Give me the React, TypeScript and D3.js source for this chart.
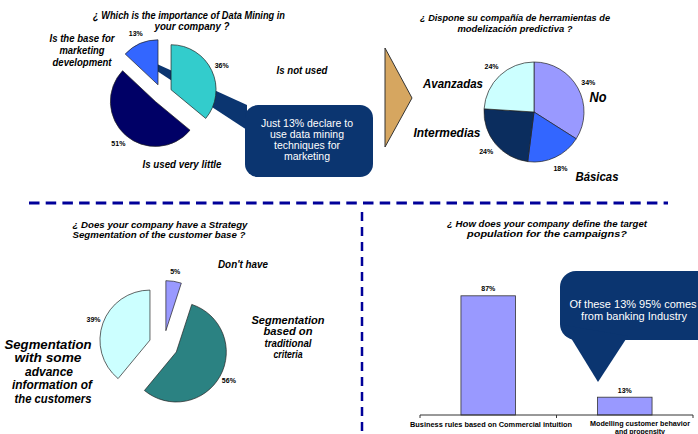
import React from "react";
import * as d3 from "d3";

// ---------- data ----------
const importanceLabels = ["Is the base for marketing development", "Is not used", "Is used very little"];
const importanceValues = [13, 36, 51];
const importanceColors = ["#3366ff", "#33cccc", "#000066"];

const toolLabels = ["No", "Básicas", "Intermedias", "Avanzadas"];
const toolValues = [34, 18, 24, 24];
const toolColors = ["#9999ff", "#3366ff", "#0b2d5e", "#ccffff"];

const segLabels = ["Don't have", "Segmentation based on traditional criteria", "Segmentation with some advance information of the customers"];
const segValues = [5, 56, 39];
const segColors = ["#9999ff", "#2b8282", "#ccffff"];

const targetCategories = ["Business rules based on Commercial intuition", "Modelling customer behavior and propensity"];
const targetValues = [87, 13];

const W = 698;
const H = 434;

type LblProps = {
  x: number; y: number; w?: number; size: number; children: React.ReactNode;
  bold?: boolean; italic?: boolean; fill?: string; anchor?: string;
};
function Lbl({ x, y, w, size, children, bold = true, italic = true, fill = "#000", anchor = "middle" }: LblProps) {
  return (
    <text
      x={x}
      y={y}
      dy="0.35em"
      fontSize={size}
      fontFamily="Liberation Sans, Arial, sans-serif"
      fontWeight={bold ? "bold" : "normal"}
      fontStyle={italic ? "italic" : "normal"}
      fill={fill}
      textAnchor={anchor as any}
      {...(w ? { textLength: w, lengthAdjust: "spacingAndGlyphs" } : {})}
    >
      {children}
    </text>
  );
}

type PieProps = {
  values: number[]; colors: string[]; cx: number; cy: number; r: number;
  explode: number; start: number; labelR: number;
};
function Pie({ values, colors, cx, cy, r, explode, start, labelR }: PieProps) {
  const total = d3.sum(values);
  const pie = d3.pie<number>().sort(null).value((d) => d)
    .startAngle(start).endAngle(start + Math.PI * 2);
  const arcs = pie(values);
  const arc = d3.arc<d3.PieArcDatum<number>>().innerRadius(0).outerRadius(r);
  return (
    <g>
      {arcs.map((a, i) => {
        const mid = (a.startAngle + a.endAngle) / 2;
        const ox = cx + explode * Math.sin(mid);
        const oy = cy - explode * Math.cos(mid);
        const lx = ox + labelR * Math.sin(mid);
        const ly = oy - labelR * Math.cos(mid);
        return (
          <g key={i}>
            <path d={arc(a) || ""} transform={`translate(${ox},${oy})`} fill={colors[i]} stroke="#222" strokeWidth={0.7} />
            <Lbl x={lx} y={ly} size={7} italic={false}>
              {Math.round((values[i] / total) * 100)}%
            </Lbl>
          </g>
        );
      })}
    </g>
  );
}

function roundedBoxPath(x0: number, y0: number, x1: number, y1: number, r: number) {
  const p = d3.path();
  p.moveTo(x0 + r, y0);
  p.lineTo(x1 - r, y0);
  p.arcTo(x1, y0, x1, y0 + r, r);
  p.lineTo(x1, y1 - r);
  p.arcTo(x1, y1, x1 - r, y1, r);
  p.lineTo(x0 + r, y1);
  p.arcTo(x0, y1, x0, y1 - r, r);
  p.lineTo(x0, y0 + r);
  p.arcTo(x0, y0, x0 + r, y0, r);
  p.closePath();
  return p.toString();
}

function BarChart() {
  const x = d3.scaleBand<string>().domain(targetCategories).range([420, 693]).padding(0);
  const y = d3.scaleLinear().domain([0, 100]).range([415, 278]);
  const bw = x.bandwidth() * 0.4;
  return (
    <g>
      {targetCategories.map((c, i) => {
        const cxm = (x(c) as number) + x.bandwidth() / 2;
        return (
          <g key={c}>
            <rect x={cxm - bw / 2} y={y(targetValues[i])} width={bw} height={y(0) - y(targetValues[i])}
              fill="#9999ff" stroke="#333" strokeWidth={0.8} />
            <Lbl x={cxm} y={y(targetValues[i]) - 7} size={7} italic={false}>{targetValues[i]}%</Lbl>
          </g>
        );
      })}
      <line x1={420} x2={693} y1={y(0)} y2={y(0)} stroke="#333" strokeWidth={1} />
      {[420, 420 + x.step(), 693].map((t, i) => (
        <line key={i} x1={t} x2={t} y1={y(0)} y2={y(0) + 3} stroke="#333" strokeWidth={1} />
      ))}
    </g>
  );
}

export default function App() {
  return (
    <svg width={W} height={H} style={{ position: "absolute", left: 0, top: 0, background: "#fff" }}>
      <rect width={W} height={H} fill="#fff" />

      {/* ---- top-left: importance of data mining ---- */}
      <Lbl x={189} y={15} w={192} size={10}>¿ Which is the importance of Data Mining in</Lbl>
      <Lbl x={192} y={26} w={75} size={10}>your company ?</Lbl>
      <polygon points="157,64 247,105 247,130 157,71" fill="#0b3570" />
      <Pie values={importanceValues} colors={importanceColors} cx={162} cy={94} r={45} explode={10}
        start={-(importanceValues[0] / d3.sum(importanceValues)) * Math.PI * 2} labelR={56} />
      <Lbl x={82} y={38} w={65} size={10}>Is the base for</Lbl>
      <Lbl x={82} y={50} w={45} size={10}>marketing</Lbl>
      <Lbl x={82} y={62} w={59} size={10}>development</Lbl>
      <Lbl x={302} y={70} w={51} size={10}>{importanceLabels[1]}</Lbl>
      <Lbl x={182} y={164} w={79} size={10}>{importanceLabels[2]}</Lbl>
      <path d={roundedBoxPath(245, 105, 373, 177, 13)} fill="#0b3570" />
      <Lbl x={307} y={123} size={10.5} bold={false} italic={false} fill="#fff">Just 13% declare to</Lbl>
      <Lbl x={307} y={134} size={10.5} bold={false} italic={false} fill="#fff">use data mining</Lbl>
      <Lbl x={307} y={145} size={10.5} bold={false} italic={false} fill="#fff">techniques for</Lbl>
      <Lbl x={307} y={156} size={10.5} bold={false} italic={false} fill="#fff">marketing</Lbl>

      {/* ---- arrow ---- */}
      <polygon points="385,48 412,98 385,147" fill="#d6a660" stroke="#333" strokeWidth={1} />

      {/* ---- top-right: predictive modelling tools ---- */}
      <Lbl x={515} y={18} w={190} size={9.5}>¿ Dispone su compañía de herramientas de</Lbl>
      <Lbl x={515} y={29} w={115} size={9.5}>modelización predictiva ?</Lbl>
      <Pie values={toolValues} colors={toolColors} cx={534} cy={112} r={50} explode={0} start={0} labelR={62} />
      <Lbl x={453} y={83} w={60} size={13}>{toolLabels[3]}</Lbl>
      <Lbl x={598} y={97} w={17} size={14}>{toolLabels[0]}</Lbl>
      <Lbl x={447} y={133} w={67} size={12}>{toolLabels[2]}</Lbl>
      <Lbl x={597} y={176} w={43} size={13}>{toolLabels[1]}</Lbl>

      {/* ---- separators ---- */}
      <line x1={29} x2={668} y1={203} y2={203} stroke="#000099" strokeWidth={3} strokeDasharray="10.5 6.2" />
      <line x1={362} x2={362} y1={212} y2={434} stroke="#000099" strokeWidth={2.5} strokeDasharray="9 6" />

      {/* ---- bottom-left: segmentation ---- */}
      <Lbl x={160} y={225} w={175} size={9}>¿ Does your company have a Strategy</Lbl>
      <Lbl x={159} y={235} w={173} size={9}>Segmentation of the customer base ?</Lbl>
      <Pie values={segValues} colors={segColors} cx={163.6} cy={345} r={50} explode={14.5} start={0} labelR={60} />
      <Lbl x={243} y={264} w={50} size={11}>{segLabels[0]}</Lbl>
      <Lbl x={288} y={320} w={73} size={10.5}>Segmentation</Lbl>
      <Lbl x={288} y={331.5} w={49} size={10.5}>based on</Lbl>
      <Lbl x={288} y={343} w={47} size={10.5}>traditional</Lbl>
      <Lbl x={288} y={354.5} w={29} size={10.5}>criteria</Lbl>
      <Lbl x={48} y={345} w={87} size={12}>Segmentation</Lbl>
      <Lbl x={48} y={358} w={67} size={12}>with some</Lbl>
      <Lbl x={49} y={371.5} w={48} size={12}>advance</Lbl>
      <Lbl x={52} y={385} w={80} size={12}>information of</Lbl>
      <Lbl x={53} y={398.5} w={77} size={12}>the customers</Lbl>

      {/* ---- bottom-right: target population ---- */}
      <Lbl x={547} y={224} w={200} size={9.5}>¿ How does your company define the target</Lbl>
      <Lbl x={547} y={234} w={160} size={9.5}>population for the campaigns?</Lbl>
      <BarChart />
      <path d={roundedBoxPath(560, 271, 712, 340, 16)} fill="#0b3570" />
      <polygon points="563,325 598,382 628,336" fill="#0b3570" />
      <Lbl x={633} y={304} size={11} bold={false} italic={false} fill="#fff">Of these 13% 95% comes</Lbl>
      <Lbl x={634} y={316} size={11} bold={false} italic={false} fill="#fff">from banking Industry</Lbl>
      <Lbl x={491} y={424} w={162} size={7.5} italic={false}>Business rules based on Commercial intuition</Lbl>
      <Lbl x={640} y={423.5} w={100} size={7.5} italic={false}>Modelling customer behavior</Lbl>
      <Lbl x={640} y={431.5} w={50} size={6.5} italic={false}>and propensity</Lbl>
    </svg>
  );
}
